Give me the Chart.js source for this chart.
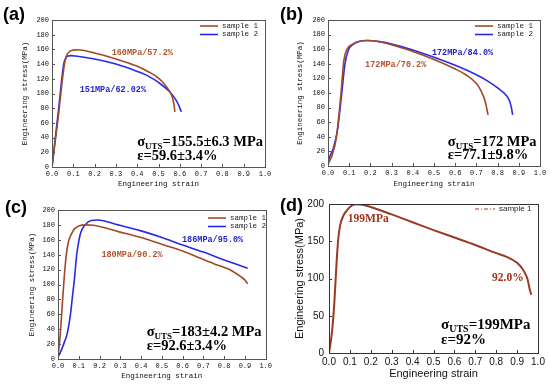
<!DOCTYPE html>
<html>
<head>
<meta charset="utf-8">
<script src="https://cdn.jsdelivr.net/npm/chart.js@4.4.1/dist/chart.umd.min.js"></script>
<style>
  body { margin: 0; background: #fff; }
  #wrap { position: relative; width: 550px; height: 384px; overflow: hidden; }
  canvas { position: absolute; }
</style>
</head>
<body>
<div id="wrap">
  <canvas id="ca" width="275" height="192" style="left:0;top:0"></canvas>
  <canvas id="cb" width="275" height="192" style="left:275px;top:0"></canvas>
  <canvas id="cc" width="275" height="192" style="left:0;top:192px"></canvas>
  <canvas id="cd" width="275" height="192" style="left:275px;top:192px"></canvas>
</div>
<script>
// tick values
const strainTicks = [0, 0.1, 0.2, 0.3, 0.4, 0.5, 0.6, 0.7, 0.8, 0.9, 1.0];
const stressTicks = [0, 20, 40, 60, 80, 100, 120, 140, 160, 180, 200];
const stressTicksD = [0, 50, 100, 150, 200];

// (a)
const aS1Strain = [0, 0.03, 0.055, 0.065, 0.08, 0.1, 0.12, 0.2, 0.3, 0.4, 0.45, 0.5, 0.53, 0.55, 0.565, 0.572, 0.577];
const aS1Stress = [0, 70, 133, 149, 156.5, 159, 159.5, 155, 147, 137, 130, 121, 112, 104, 95, 86, 75];
const aS2Strain = [0, 0.03, 0.055, 0.065, 0.075, 0.09, 0.11, 0.2, 0.3, 0.4, 0.45, 0.5, 0.55, 0.58, 0.595, 0.607];
const aS2Stress = [0, 76, 140, 148, 151, 151.5, 151, 147, 140, 130, 124, 115, 103, 92, 84, 75];

// (b)
const bS1Strain = [0, 0.02, 0.04, 0.06, 0.075, 0.09, 0.11, 0.14, 0.18, 0.25, 0.3, 0.4, 0.5, 0.6, 0.65, 0.7, 0.72, 0.74, 0.755];
const bS1Stress = [3, 15, 40, 95, 145, 160, 166, 170, 172, 170, 166, 157, 146, 133, 125, 113, 104, 90, 70];
const bS2Strain = [0, 0.01, 0.025, 0.045, 0.065, 0.08, 0.095, 0.12, 0.15, 0.18, 0.25, 0.3, 0.4, 0.5, 0.6, 0.7, 0.75, 0.8, 0.84, 0.855, 0.865, 0.871];
const bS2Stress = [5, 14, 24, 50, 100, 140, 158, 167, 171, 172, 170, 167, 159, 149, 138, 125, 117, 107, 97, 90, 80, 70];

// (c)
const cS1Strain = [0, 0.01, 0.02, 0.03, 0.04, 0.05, 0.065, 0.08, 0.1, 0.13, 0.17, 0.29, 0.4, 0.5, 0.6, 0.67, 0.75, 0.83, 0.88, 0.9, 0.913];
const cS1Stress = [3, 30, 70, 110, 140, 157, 168, 175, 178.5, 180, 179.5, 171, 163, 154, 145, 137, 128, 119.5, 110.5, 106, 101];
const cS2Strain = [0, 0.01, 0.03, 0.045, 0.06, 0.07, 0.08, 0.09, 0.1, 0.11, 0.13, 0.16, 0.19, 0.29, 0.4, 0.5, 0.6, 0.7, 0.8, 0.9, 0.913];
const cS2Stress = [3, 8, 22, 35, 60, 85, 110, 140, 158, 170, 180, 186, 186.5, 180, 172, 163, 153, 143.5, 133, 123, 121.5];

// (d)
const dS1Strain = [0, 0.013, 0.025, 0.037, 0.045, 0.053, 0.07, 0.085, 0.1, 0.13, 0.16, 0.2, 0.3, 0.4, 0.5, 0.6, 0.7, 0.8, 0.85, 0.9, 0.93, 0.95, 0.96, 0.968];
const dS1Stress = [0, 25, 65, 125, 155, 171, 185, 191, 196, 199.5, 199, 196, 186, 175.5, 165, 155, 145, 134, 129, 121, 111, 99, 86, 78];

const BROWN = "#a04a28";
const BLUE = "#2a2ae6";
const MONO = '"Liberation Mono", "DejaVu Sans Mono", monospace';
const SERIF = '"Liberation Serif", "DejaVu Serif", serif';
const SANS = '"Liberation Sans", Arial, sans-serif';

const pts = (xs, ys) => xs.map((x, i) => ({ x: x, y: ys[i] }));

function drawSigma(ctx, px, py, size, rest) {
  ctx.fillStyle = "#000";
  ctx.textAlign = "left";
  ctx.textBaseline = "middle";
  ctx.font = `bold ${size}px ${SERIF}`;
  ctx.fillText("σ", px, py);
  let w = ctx.measureText("σ").width;
  ctx.font = `bold ${Math.round(size * 0.64)}px ${SERIF}`;
  ctx.fillText("UTS", px + w, py + size * 0.3);
  w += ctx.measureText("UTS").width;
  ctx.font = `bold ${size}px ${SERIF}`;
  ctx.fillText(rest, px + w, py);
}

const panelPlugin = {
  id: "panel",
  afterDraw(chart, args, o) {
    const { ctx, chartArea: ca, scales: { x, y } } = chart;
    ctx.save();

    // frame and inward ticks
    ctx.strokeStyle = o.frame;
    ctx.lineWidth = 1;
    ctx.strokeRect(Math.round(ca.left) + 0.5, Math.round(ca.top) + 0.5,
      Math.round(ca.width), Math.round(ca.height));
    ctx.beginPath();
    x.ticks.forEach(t => {
      const px = Math.round(x.getPixelForValue(t.value)) + 0.5;
      ctx.moveTo(px, ca.bottom);
      ctx.lineTo(px, ca.bottom - 3);
    });
    y.ticks.forEach(t => {
      const py = Math.round(y.getPixelForValue(t.value)) + 0.5;
      ctx.moveTo(ca.left, py);
      ctx.lineTo(ca.left + 3, py);
    });
    ctx.stroke();

    // panel letter
    ctx.fillStyle = "#000";
    ctx.textAlign = "left";
    ctx.textBaseline = "top";
    ctx.font = `bold 18px ${SANS}`;
    ctx.fillText(o.letter, o.letterX, o.letterY);

    // legend
    ctx.textBaseline = "middle";
    chart.data.datasets.forEach((ds, i) => {
      const ly = o.legY + i * o.legStep;
      ctx.strokeStyle = ds.borderColor;
      ctx.lineWidth = o.legLine;
      ctx.setLineDash(o.legDash || []);
      ctx.beginPath();
      ctx.moveTo(o.legX, ly);
      ctx.lineTo(o.legX + o.legLen, ly);
      ctx.stroke();
      ctx.setLineDash([]);
      ctx.fillStyle = "#222";
      ctx.font = o.legFont;
      ctx.fillText(ds.label, o.legX + o.legLen + 4, ly);
    });

    // notes
    o.notes.forEach(n => {
      ctx.fillStyle = n.color;
      ctx.font = n.font;
      ctx.fillText(n.text, x.getPixelForValue(n.x), y.getPixelForValue(n.y));
    });

    // summary
    const s = o.summary;
    drawSigma(ctx, x.getPixelForValue(s.x), y.getPixelForValue(s.y1), s.size, s.uts);
    ctx.font = `bold ${s.size}px ${SERIF}`;
    ctx.fillText(s.eps, x.getPixelForValue(s.x), y.getPixelForValue(s.y2));

    ctx.restore();
  }
};

function makeChart(id, datasets, cfg) {
  const fontTick = { family: cfg.tickFamily, size: cfg.tickSize };
  const fontTitle = { family: cfg.tickFamily, size: cfg.titleSize };
  new Chart(document.getElementById(id), {
    type: "scatter",
    data: { datasets: datasets },
    plugins: [panelPlugin],
    options: {
      responsive: false,
      animation: false,
      layout: { padding: cfg.padding },
      elements: { point: { radius: 0 } },
      plugins: {
        legend: { display: false },
        tooltip: { enabled: false },
        panel: cfg.panel
      },
      scales: {
        x: {
          type: "linear",
          min: 0,
          max: 1,
          grid: { display: false, drawTicks: false },
          border: { display: false },
          afterBuildTicks: s => { s.ticks = strainTicks.map(v => ({ value: v })); },
          afterFit: s => { s.height = cfg.xHeight; },
          ticks: {
            color: "#111",
            font: fontTick,
            padding: cfg.xTickPad,
            maxRotation: 0,
            autoSkip: false,
            callback: v => v.toFixed(1)
          },
          title: { display: true, text: "Engineering strain", color: "#111", font: fontTitle, padding: { top: 2, bottom: cfg.xTitlePad } }
        },
        y: {
          type: "linear",
          min: 0,
          max: 200,
          grid: { display: false, drawTicks: false },
          border: { display: false },
          afterBuildTicks: s => { s.ticks = cfg.yTicks.map(v => ({ value: v })); },
          afterFit: s => { s.width = cfg.yWidth; },
          ticks: { color: "#111", font: fontTick, padding: cfg.yTickPad, autoSkip: false },
          title: { display: true, text: "Engineering stress(MPa)", color: "#111", font: fontTitle, padding: { top: 0, bottom: 2 } }
        }
      }
    }
  });
}

function line(label, color, xs, ys, w) {
  return {
    label: label,
    data: pts(xs, ys),
    showLine: true,
    borderColor: color,
    backgroundColor: color,
    borderWidth: w,
    cubicInterpolationMode: "monotone",
    fill: false
  };
}

const noteFont = `bold 8.5px ${MONO}`;
const legFont = `7.5px ${MONO}`;

makeChart("ca", [
  line("sample 1", BROWN, aS1Strain, aS1Stress, 1.6),
  line("sample 2", BLUE, aS2Strain, aS2Stress, 1.6)
], {
  padding: { left: 20.5, right: 10, top: 20, bottom: 0 },
  yWidth: 31.5, xHeight: 25, xTickPad: 3, xTitlePad: 3, yTickPad: 3,
  tickFamily: MONO, tickSize: 7, titleSize: 7.5, yTicks: stressTicks,
  panel: {
    frame: "#555", letter: "(a)", letterX: 3, letterY: 6,
    legX: 200, legY: 26, legStep: 8.5, legLen: 18, legLine: 1.6, legFont: legFont,
    notes: [
      { text: "160MPa/57.2%", x: 0.28, y: 155, color: "#b5532e", font: noteFont },
      { text: "151MPa/62.02%", x: 0.13, y: 105, color: "#2626c8", font: noteFont }
    ],
    summary: { x: 0.40, y1: 34, y2: 15, size: 14.5, uts: "=155.5±6.3 MPa", eps: "ε=59.6±3.4%" }
  }
});

makeChart("cb", [
  line("sample 1", BROWN, bS1Strain, bS1Stress, 1.6),
  line("sample 2", BLUE, bS2Strain, bS2Stress, 1.6)
], {
  padding: { left: 20.5, right: 10, top: 20, bottom: 0 },
  yWidth: 32.5, xHeight: 26, xTickPad: 3, xTitlePad: 3, yTickPad: 3,
  tickFamily: MONO, tickSize: 7, titleSize: 7.5, yTicks: stressTicks,
  panel: {
    frame: "#555", letter: "(b)", letterX: 5, letterY: 6,
    legX: 200, legY: 26, legStep: 8.5, legLen: 18, legLine: 1.6, legFont: legFont,
    notes: [
      { text: "172MPa/84.0%", x: 0.49, y: 155, color: "#2626c8", font: noteFont },
      { text: "172MPa/70.2%", x: 0.175, y: 138, color: "#b5532e", font: noteFont }
    ],
    summary: { x: 0.565, y1: 33, y2: 15, size: 14.5, uts: "=172 MPa", eps: "ε=77.1±9.8%" }
  }
});

makeChart("cc", [
  line("sample 1", BROWN, cS1Strain, cS1Stress, 1.6),
  line("sample 2", BLUE, cS2Strain, cS2Stress, 1.6)
], {
  padding: { left: 27.5, right: 6, top: 18, bottom: 0 },
  yWidth: 30.5, xHeight: 25, xTickPad: 3, xTitlePad: 3, yTickPad: 3,
  tickFamily: MONO, tickSize: 7, titleSize: 7.5, yTicks: stressTicks,
  panel: {
    frame: "#555", letter: "(c)", letterX: 5, letterY: 7,
    legX: 208, legY: 26, legStep: 8.5, legLen: 18, legLine: 1.6, legFont: legFont,
    notes: [
      { text: "186MPa/95.0%", x: 0.597, y: 160, color: "#2626c8", font: noteFont },
      { text: "180MPa/90.2%", x: 0.209, y: 139.5, color: "#b5532e", font: noteFont }
    ],
    summary: { x: 0.427, y1: 36, y2: 17.5, size: 14.5, uts: "=183±4.2 MPa", eps: "ε=92.6±3.4%" }
  }
});

makeChart("cd", [
  line("sample 1", "#9a3a22", dS1Strain, dS1Stress, 2)
], {
  padding: { left: 18, right: 12, top: 12, bottom: 0 },
  yWidth: 36, xHeight: 31, xTickPad: 3, xTitlePad: 3, yTickPad: 5,
  tickFamily: SANS, tickSize: 10, titleSize: 11, yTicks: stressTicksD,
  panel: {
    frame: "#333", letter: "(d)", letterX: 5, letterY: 5,
    legX: 200, legY: 17, legStep: 9, legLen: 20, legLine: 1.2, legDash: [4, 2, 1, 2], legFont: `8px ${SANS}`,
    notes: [
      { text: "199MPa", x: 0.09, y: 180, color: "#a3301c", font: `bold 11.5px ${SERIF}` },
      { text: "92.0%", x: 0.78, y: 100.7, color: "#a3301c", font: `bold 11.5px ${SERIF}` }
    ],
    summary: { x: 0.536, y1: 37.6, y2: 17.5, size: 15, uts: "=199MPa", eps: "ε=92%" }
  }
});
</script>
</body>
</html>
